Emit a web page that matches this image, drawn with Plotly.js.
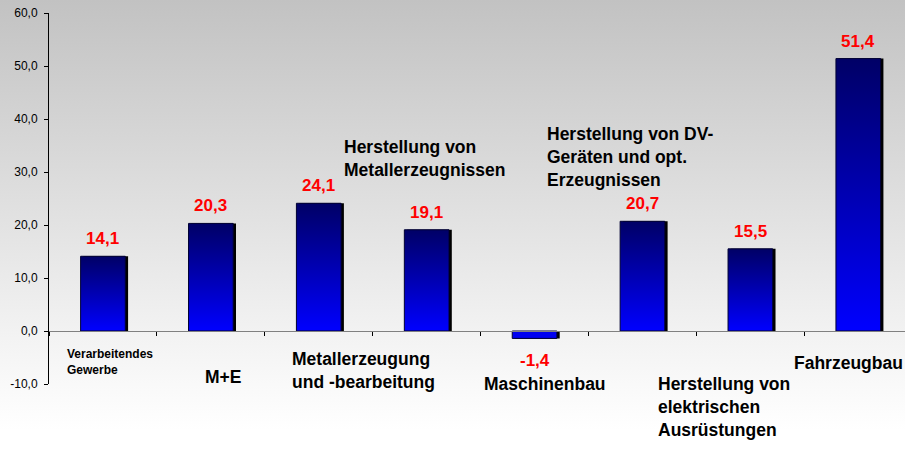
<!DOCTYPE html>
<html><head><meta charset="utf-8">
<script src="https://cdn.plot.ly/plotly-3.0.1.min.js"></script>
<style>
html,body{margin:0;padding:0;width:905px;height:463px;overflow:hidden;
background:linear-gradient(to bottom,#c2c2c2 0px,#f2f2f2 331px,#ffffff 430px,#ffffff 463px);}
#chart{width:905px;height:463px;}
</style>
</head><body><div id="chart"></div>
<script>
// ---- data ----
const categories = ['Verarbeitendes Gewerbe','M+E','Metallerzeugung und -bearbeitung','Herstellung von Metallerzeugnissen','Maschinenbau','Herstellung von DV-Geräten und opt. Erzeugnissen','Herstellung von elektrischen Ausrüstungen','Fahrzeugbau'];
const values = [14.1, 20.3, 24.1, 19.1, -1.4, 20.7, 15.5, 51.4];
const categoryLabels = ['Verarbeitendes<br>Gewerbe','M+E','Metallerzeugung<br>und -bearbeitung','Herstellung von<br>Metallerzeugnissen','Maschinenbau','Herstellung von DV-<br>Geräten und opt.<br>Erzeugnissen','Herstellung von<br>elektrischen<br>Ausrüstungen','Fahrzeugbau'];
const yTickVals = [-10, 0, 10, 20, 30, 40, 50, 60];
const yTickText = ['-10,0','0,0','10,0','20,0','30,0','40,0','50,0','60,0'];

// ---- layout helpers (pixel placement of the free-standing category labels) ----
const W = 905, H = 463, ML = 49, MR = 0, MT = 12.7, MB = 79.3;
const labelPos = [[64.5,345,12],[202.5,364.5,17.5],[290,346.5,17.5],[342,134.5,17.5],[482,371.5,17.5],[545,121.5,17.5],[655.5,372,17.5],[792,351,17.5]];
const FONT = '"Liberation Sans", Arial, Helvetica, sans-serif';
const pw = W - ML - MR, ph = H - MT - MB;

const barW = 0.414;
const shadow = {
  type:'bar', x: categories, y: values, width: barW, offset: -barW/2 + 0.026,
  marker:{color:'#000000', line:{width:0}}, hoverinfo:'skip'
};
const bars = {
  type:'bar', x: categories, y: values, width: barW, offset: -barW/2,
  marker:{color: values.map(v => v >= 0 ? '#0000b0' : '#0000f0'), line:{color:'#000033', width:1}}
};

const annotations = [];
values.forEach((v,i) => {
  annotations.push({
    xref:'x', yref:'y', x: categories[i], y: v,
    text: v.toFixed(1).replace('.', ','), showarrow:false,
    xanchor:'center', yanchor: v >= 0 ? 'bottom' : 'top', yshift: v >= 0 ? 6 : -11,
    font:{family:FONT, size:17, color:'#ff0000', weight:'bold'}
  });
});
categoryLabels.forEach((t,i) => {
  const [px, py, fs] = labelPos[i];
  annotations.push({
    xref:'paper', yref:'paper', x:(px-ML)/pw, y:(H-MB-py)/ph,
    xanchor:'left', yanchor:'top', align:'left', showarrow:false, text:t,
    font:{family:FONT, size:fs, color:'#000000', weight:'bold'}
  });
});

const layout = {
  width:W, height:H, margin:{l:ML, r:MR, t:MT, b:MB, pad:0},
  paper_bgcolor:'rgba(0,0,0,0)', plot_bgcolor:'rgba(0,0,0,0)',
  barmode:'overlay', showlegend:false,
  font:{family:FONT, color:'#000'},
  xaxis:{type:'category', range:[-0.5, 7.433], anchor:'free', position: 10/70,
    showline:true, linecolor:'#808080', linewidth:1, showgrid:false, zeroline:false,
    ticks:'outside', tickson:'boundaries', ticklen:4, tickcolor:'#000', tickwidth:1,
    showticklabels:false},
  yaxis:{range:[-10, 60], showline:true, linecolor:'#000', linewidth:1, showgrid:false, zeroline:false,
    tickmode:'array', tickvals:yTickVals, ticktext:yTickText,
    ticks:'outside', ticklen:4, tickcolor:'#000', ticklabelstandoff:4,
    tickfont:{family:FONT, size:12, color:'#000'}},
  annotations: annotations
};

Plotly.newPlot('chart', [shadow, bars], layout, {staticPlot:true}).then(gd => {
  const ns = 'http://www.w3.org/2000/svg';
  const svg = gd.querySelector('svg.main-svg');
  let defs = svg.querySelector('defs');
  if (!defs) { defs = document.createElementNS(ns,'defs'); svg.insertBefore(defs, svg.firstChild); }
  const lg = document.createElementNS(ns,'linearGradient');
  lg.setAttribute('id','barGrad'); lg.setAttribute('x1','0'); lg.setAttribute('y1','0');
  lg.setAttribute('x2','0'); lg.setAttribute('y2','1');
  [['0','#000066'],['1','#0000ff']].forEach(([o,c]) => {
    const s = document.createElementNS(ns,'stop');
    s.setAttribute('offset',o); s.setAttribute('stop-color',c); lg.appendChild(s);
  });
  defs.appendChild(lg);
  const traces = gd.querySelectorAll('.barlayer .trace');
  const paths = traces[1].querySelectorAll('.point path');
  paths.forEach((p,i) => { if (values[i] >= 0) p.style.fill = 'url(#barGrad)'; });
});
</script>
</body></html>
